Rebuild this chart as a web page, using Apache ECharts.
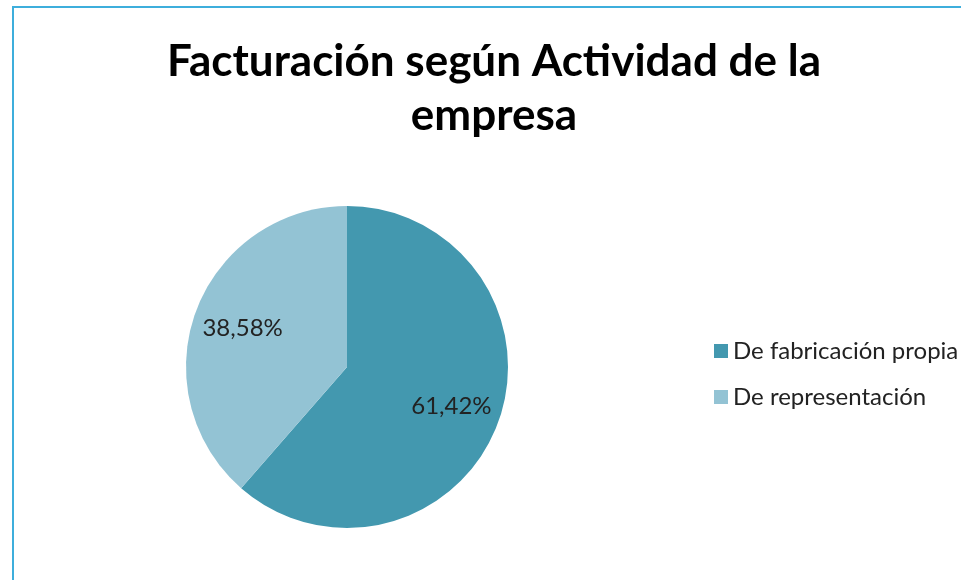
<!DOCTYPE html>
<html>
<head>
<meta charset="utf-8">
<script src="https://cdn.jsdelivr.net/npm/echarts@6/dist/echarts.min.js"></script>
<style>
  html, body { margin: 0; padding: 0; background: #fff; overflow: hidden; }
  .frame {
    position: absolute; left: 12px; top: 6px; width: 1000px; height: 1000px;
    border-left: 2px solid #3DAEDC; border-top: 2px solid #3DAEDC;
  }
  #chart { position: absolute; left: 0; top: 0; width: 961px; height: 580px; }
</style>
</head>
<body>
<div class="frame"></div>
<div id="chart"></div>
<script>
var titleText = 'Facturación según Actividad de la\nempresa';
var categories = ['De fabricación propia', 'De representación'];
var values = [61.42, 38.58];
var colors = ['#4398AF', '#93C3D4'];

var pieData = categories.map(function (name, i) {
  return { name: name, value: values[i], itemStyle: { color: colors[i] } };
});

var myChart = echarts.init(document.getElementById('chart'));
var option = {
  animation: false,
  title: {
    text: titleText,
    left: 489,
    top: 30,
    textAlign: 'center',
    textStyle: {
      fontFamily: 'Lato',
      fontWeight: 'bold',
      fontSize: 44,
      lineHeight: 54,
      color: '#000'
    }
  },
  legend: {
    orient: 'vertical',
    left: 709,
    top: 334,
    itemWidth: 14,
    itemHeight: 14,
    itemGap: 22,
    icon: 'rect',
    data: categories,
    textStyle: { fontFamily: 'Lato', fontSize: 24, color: '#222' }
  },
  series: [
    {
      type: 'pie',
      center: [347, 367],
      radius: [0, 161],
      startAngle: 90,
      clockwise: true,
      label: { show: false },
      labelLine: { show: false },
      emphasis: { disabled: true },
      data: pieData
    },
    {
      // transparent ring used only to place the labels further out
      type: 'pie',
      center: [347, 367],
      radius: [56, 161],
      startAngle: 90,
      clockwise: true,
      silent: true,
      itemStyle: { color: 'transparent' },
      label: {
        show: true,
        position: 'inside',
        fontFamily: 'Lato',
        fontSize: 24,
        color: '#222',
        formatter: function (p) {
          return p.value.toFixed(2).replace('.', ',') + '%';
        }
      },
      labelLine: { show: false },
      emphasis: { disabled: true },
      data: categories.map(function (name, i) {
        return { name: name, value: values[i] };
      })
    }
  ]
};
myChart.setOption(option);
</script>
</body>
</html>
